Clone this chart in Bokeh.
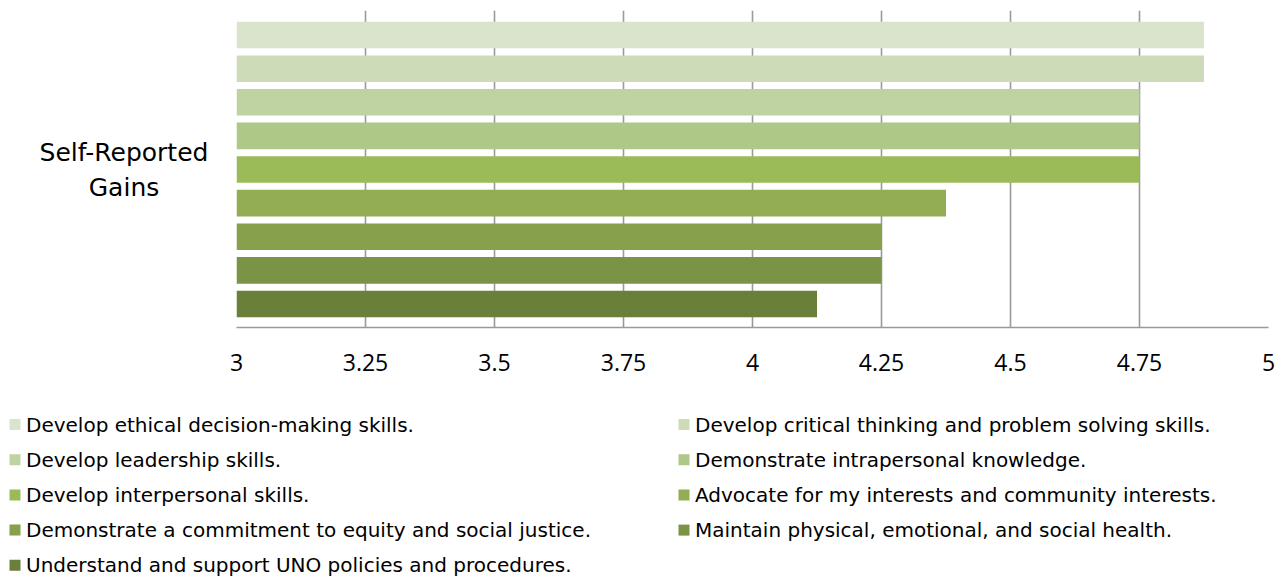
from bokeh.plotting import figure
from bokeh.layouts import column, row
from bokeh.models import Range1d, FixedTicker, ColumnDataSource
from bokeh.core.properties import value
from bokeh.embed import file_html
from bokeh.resources import INLINE

category_lines = ["Self-Reported", "Gains"]
series = [
    "Develop ethical decision-making skills.",
    "Develop critical thinking and problem solving skills.",
    "Develop leadership skills.",
    "Demonstrate intrapersonal knowledge.",
    "Develop interpersonal skills.",
    "Advocate for my interests and community interests.",
    "Demonstrate a commitment to equity and social justice.",
    "Maintain physical, emotional, and social health.",
    "Understand and support UNO policies and procedures.",
]
values = [4.875, 4.875, 4.75, 4.75, 4.75, 4.375, 4.25, 4.25, 4.125]
colors = ["#DAE3CB", "#CEDBB8", "#BFD2A2", "#AEC887", "#9BBB59",
          "#93AD55", "#86A04B", "#7B9344", "#6A7F3A"]
x_ticks = [3, 3.25, 3.5, 3.75, 4, 4.25, 4.5, 4.75, 5]
x_tick_labels = ["3", "3.25", "3.5", "3.75", "4", "4.25", "4.5", "4.75", "5"]
x_min, x_max = 3, 5

GRID = "#9A9A9A"
W, H = 1284, 577
LAB_W = 222
LEFT = 236
TOP_H = 390
FRAME_TOP, FRAME_BOTTOM = 10, 327

# ---- category label panel (left of the chart) ----
lab = figure(width=LAB_W, height=TOP_H, output_backend="svg", toolbar_location=None,
             x_range=Range1d(0, LAB_W), y_range=Range1d(FRAME_BOTTOM, FRAME_TOP),
             x_axis_location=None, y_axis_location=None, min_border=0,
             min_border_top=FRAME_TOP, min_border_bottom=TOP_H - FRAME_BOTTOM)
lab.outline_line_color = None
lab.grid.visible = False
lab.text(x=[123.5] * len(category_lines),
         y=[152 + 35 * k for k in range(len(category_lines))],
         text=category_lines, text_align="center", text_baseline="middle",
         text_font=value("DejaVu Sans"), text_font_size="25px", text_color="black")

# ---- main bar chart ----
p = figure(width=W - LAB_W, height=TOP_H, output_backend="svg", toolbar_location=None,
           x_range=Range1d(x_min, x_max), y_range=Range1d(9.7, 0.27),
           min_border_left=LEFT - LAB_W, min_border_right=16,
           min_border_top=FRAME_TOP, min_border_bottom=TOP_H - FRAME_BOTTOM,
           y_axis_location=None)
p.outline_line_color = None

renderers = []
for i, (name, v, c) in enumerate(zip(series, values, colors)):
    r = p.hbar(y=[i + 1], left=[x_min], right=[v], height=0.79,
               fill_color=c, line_color=None)
    renderers.append(r)

p.xgrid.ticker = FixedTicker(ticks=x_ticks)
p.xgrid.grid_line_color = GRID
p.xgrid.grid_line_width = 1.6
p.ygrid.visible = False

xa = p.xaxis[0]
xa.ticker = FixedTicker(ticks=x_ticks)
xa.major_label_overrides = {t: l for t, l in zip(x_ticks, x_tick_labels)}
xa.major_tick_line_color = None
xa.minor_tick_line_color = None
xa.axis_line_color = GRID
xa.axis_line_width = 1.6
xa.major_label_text_font = "Open Sans"
xa.major_label_text_font_size = "23px"
xa.major_label_text_color = "black"
xa.major_label_standoff = 20

# ---- legend panel ----
leg = figure(width=W, height=H - TOP_H, output_backend="svg", toolbar_location=None,
             x_range=Range1d(0, W), y_range=Range1d(H, TOP_H),
             x_axis_location=None, y_axis_location=None, min_border=0)
leg.outline_line_color = None
leg.grid.visible = False

col_x = [14.5, 683.5]
row_y0, row_dy = 424, 35.2
sq_x = [col_x[i % 2] for i in range(len(series))]
sq_y = [row_y0 + row_dy * (i // 2) for i in range(len(series))]
src = ColumnDataSource(dict(x=sq_x, y=sq_y, tx=[x + 11 for x in sq_x],
                            name=series, color=colors))
leg.scatter(x="x", y="y", marker="square", size=11, fill_color="color",
            line_color=None, source=src)
leg.text(x="tx", y="y", text="name", text_align="left", text_baseline="middle",
         text_font=value("DejaVu Sans"), text_font_size="20px", text_color="black",
         source=src)

layout = column(row(lab, p), leg)
open("out.html", "w").write(file_html(layout, INLINE))
